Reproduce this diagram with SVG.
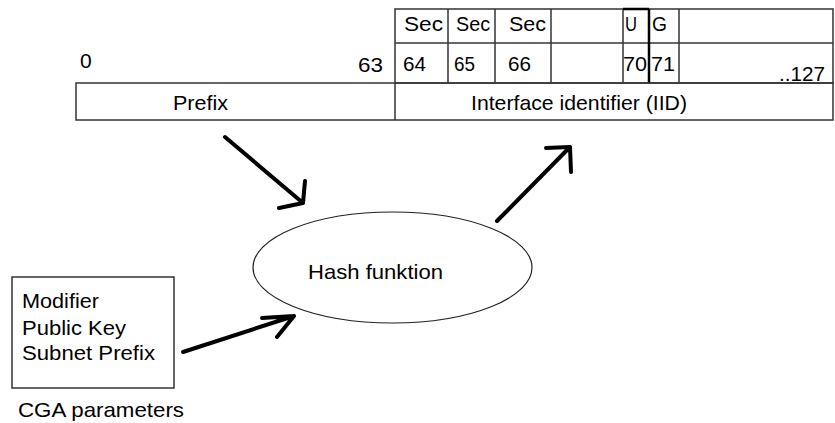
<svg xmlns="http://www.w3.org/2000/svg" width="835" height="423" viewBox="0 0 835 423">
<style>
text{font-family:"Liberation Sans",Arial,sans-serif;font-size:21px;fill:#000}
.ln{stroke:#333;stroke-width:1.5;fill:none}
.thick{stroke:#000;stroke-width:2.5;fill:none}
.arr{stroke:#000;stroke-width:4;fill:none;stroke-linecap:round;stroke-linejoin:round}
</style>
<rect width="835" height="423" fill="#fff"/>
<g id="address-table">
<rect class="ln" x="395" y="9" width="438" height="74"/>
<line class="ln" x1="395" y1="43" x2="833" y2="43"/>
<line class="ln" x1="448" y1="9" x2="448" y2="83"/>
<line class="ln" x1="495" y1="9" x2="495" y2="83"/>
<line class="ln" x1="551" y1="9" x2="551" y2="83"/>
<line class="ln" x1="623" y1="9" x2="623" y2="83"/>
<line class="ln" x1="679" y1="9" x2="679" y2="83"/>
<line class="thick" x1="623" y1="9" x2="649" y2="9"/>
<line class="thick" x1="649" y1="9" x2="649" y2="83"/>
<text x="404" y="31" textLength="39" lengthAdjust="spacingAndGlyphs">Sec</text>
<text x="456" y="31" textLength="34" lengthAdjust="spacingAndGlyphs">Sec</text>
<text x="509" y="31" textLength="37" lengthAdjust="spacingAndGlyphs">Sec</text>
<text x="625" y="31" textLength="12" lengthAdjust="spacingAndGlyphs">U</text>
<text x="652" y="31" textLength="15" lengthAdjust="spacingAndGlyphs">G</text>
<text x="403" y="71" textLength="23" lengthAdjust="spacingAndGlyphs">64</text>
<text x="454" y="71" textLength="21" lengthAdjust="spacingAndGlyphs">65</text>
<text x="508" y="71" textLength="23" lengthAdjust="spacingAndGlyphs">66</text>
<text x="623" y="71" textLength="24" lengthAdjust="spacingAndGlyphs">70</text>
<text x="651" y="71" textLength="24" lengthAdjust="spacingAndGlyphs">71</text>
<text x="779" y="81" textLength="46" lengthAdjust="spacingAndGlyphs">..127</text>
<text x="80" y="68">0</text>
<text x="358" y="72" textLength="25" lengthAdjust="spacingAndGlyphs">63</text>
<rect class="ln" x="76" y="83" width="757" height="37"/>
<line class="ln" x1="395" y1="83" x2="395" y2="120"/>
<text x="173" y="110" textLength="55" lengthAdjust="spacingAndGlyphs">Prefix</text>
<text x="471" y="110" textLength="216" lengthAdjust="spacingAndGlyphs">Interface identifier (IID)</text>
</g>
<g id="hash">
<ellipse cx="392.5" cy="267.5" rx="139.5" ry="55.5" fill="none" stroke="#222" stroke-width="1.2"/>
<text x="308" y="279" textLength="135" lengthAdjust="spacingAndGlyphs">Hash funktion</text>
</g>
<g id="cga">
<rect class="ln" x="12" y="277" width="162" height="111"/>
<text x="22" y="308" textLength="77" lengthAdjust="spacingAndGlyphs">Modifier</text>
<text x="22" y="335" textLength="104" lengthAdjust="spacingAndGlyphs">Public Key</text>
<text x="22" y="360" textLength="133" lengthAdjust="spacingAndGlyphs">Subnet Prefix</text>
<text x="18" y="417" textLength="166" lengthAdjust="spacingAndGlyphs">CGA parameters</text>
</g>
<g id="connectors">
<path class="arr" d="M225,137 L303,203 M305,181 L303,203 L279,208"/>
<path class="arr" d="M497,221 L570,147 M546,148 L570,147 L571,172"/>
<path class="arr" d="M183,352 L294,316 M262,318 L294,316 L277,337"/>
</g>
</svg>
